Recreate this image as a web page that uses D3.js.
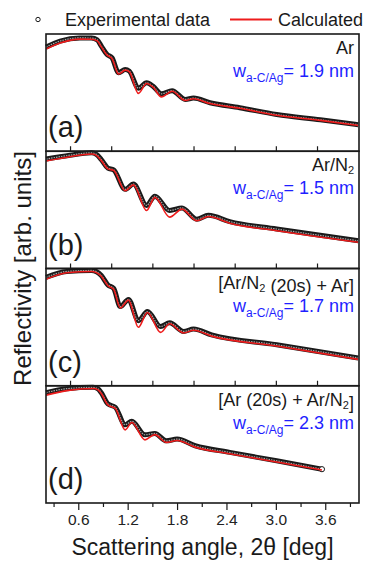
<!DOCTYPE html>
<html>
<head>
<meta charset="utf-8">
<script src="https://cdn.jsdelivr.net/npm/d3@7"></script>
<style>
  html, body { margin: 0; padding: 0; background: #fff; }
  text { font-family: "Liberation Sans", Arial, sans-serif; }
</style>
</head>
<body>
<div id="chart"></div>
<script>
// scattering angle 2theta [deg] and log reflectivity (arb.)
const anglesA = [0.21, 0.38, 0.62, 0.76, 0.83, 0.88, 0.95, 1.01, 1.09, 1.17, 1.22, 1.33, 1.43, 1.51, 1.61, 1.74, 1.90, 2.00, 2.20, 2.56, 3.01, 3.54, 4.00];
const expA  = [-0.66, -0.36, -0.20, -0.21, -0.30, -0.62, -1.05, -1.22, -1.98, -1.82, -1.90, -2.77, -2.50, -2.68, -3.06, -2.90, -3.35, -3.28, -3.52, -3.77, -4.12, -4.39, -4.64];
const calcA = [-0.77, -0.46, -0.26, -0.27, -0.35, -0.66, -1.08, -1.25, -2.05, -1.85, -1.93, -3.04, -2.53, -2.72, -3.22, -2.93, -3.40, -3.31, -3.56, -3.80, -4.16, -4.42, -4.68];

const anglesB = [0.21, 0.50, 0.76, 0.82, 0.88, 0.96, 1.03, 1.17, 1.27, 1.43, 1.53, 1.71, 1.86, 2.04, 2.18, 2.44, 3.01, 4.00];
const expB  = [-0.40, -0.20, -0.08, -0.16, -0.43, -0.86, -0.95, -1.95, -1.68, -2.77, -2.30, -3.03, -2.90, -3.48, -3.28, -3.60, -3.98, -4.58];
const calcB = [-0.50, -0.28, -0.14, -0.21, -0.48, -0.90, -0.98, -2.02, -1.72, -3.03, -2.36, -3.37, -2.96, -3.56, -3.34, -3.68, -4.07, -4.66];

const anglesC = [0.21, 0.46, 0.76, 0.82, 0.88, 0.96, 1.03, 1.11, 1.21, 1.33, 1.44, 1.60, 1.71, 1.88, 2.00, 2.22, 3.01, 4.00];
const expC  = [-0.45, -0.15, -0.10, -0.16, -0.36, -0.84, -1.02, -1.95, -1.58, -2.67, -2.20, -2.97, -2.78, -3.22, -3.10, -3.40, -3.90, -4.58];
const calcC = [-0.55, -0.22, -0.15, -0.21, -0.40, -0.88, -1.06, -2.02, -1.62, -3.01, -2.25, -3.27, -2.83, -3.30, -3.16, -3.46, -3.97, -4.65];

const anglesD = [0.21, 0.46, 0.78, 0.84, 0.88, 0.96, 1.05, 1.17, 1.25, 1.41, 1.53, 1.67, 1.80, 2.02, 2.44, 3.01, 3.56];
const expD  = [-0.35, -0.15, -0.08, -0.16, -0.36, -0.93, -1.10, -2.00, -1.82, -2.51, -2.44, -2.82, -2.73, -3.07, -3.41, -3.84, -4.27];
const calcD = [-0.48, -0.25, -0.14, -0.21, -0.40, -0.98, -1.16, -2.26, -1.88, -2.77, -2.50, -2.90, -2.80, -3.14, -3.48, -3.90, -4.31];

const panelLetters = ['(a)', '(b)', '(c)', '(d)'];
const samples = ['Ar', 'Ar/N2', '[Ar/N2 (20s) + Ar]', '[Ar (20s) + Ar/N2]'];
const roughness = [1.9, 1.5, 1.7, 2.3];
const bottomTicks = [0.6, 1.2, 1.8, 2.4, 3.0, 3.6];
const bottomMinor = [0.3, 0.9, 1.5, 2.1, 2.7, 3.3, 3.9];
const innerTicks = [0.5, 1.0, 1.5, 2.0, 2.5, 3.0, 3.5];

const panels = [
  { angles: anglesA, exp: expA, calc: calcA },
  { angles: anglesB, exp: expB, calc: calcB },
  { angles: anglesC, exp: expC, calc: calcC },
  { angles: anglesD, exp: expD, calc: calcD },
];

const width = 367;
const height = 562;
const margin = { top: 34, right: 8, bottom: 59, left: 46 };
const plotW = width - margin.left - margin.right;
const panelH = (height - margin.top - margin.bottom) / panels.length;

const svg = d3.select('#chart')
  .append('svg')
  .attr('width', width)
  .attr('height', height);

const x = d3.scaleLinear().domain([0.208, 4.01]).range([margin.left, margin.left + plotW]);

const ink = '#1a1a1a';
const red = '#ee1c1c';
const blue = '#1f1fff';

// writes text with "N2" as N + subscript 2
function addSample(sel, s) {
  const parts = s.split('N2');
  parts.forEach((p, i) => {
    sel.append('tspan').text(p + (i < parts.length - 1 ? 'N' : ''));
    if (i < parts.length - 1) {
      sel.append('tspan').attr('font-size', 11).attr('dy', 3).text('2');
      sel.append('tspan').attr('dy', -3).text('');
    }
  });
}

panels.forEach((p, i) => {
  const top = margin.top + i * panelH;
  const y = d3.scaleLinear().domain([-6, 0]).range([top + panelH, top]);
  const g = svg.append('g');

  const line = d3.line()
    .x((d, k) => x(p.angles[k]))
    .y((d) => y(d))
    .curve(d3.curveMonotoneX);

  // experimental data: dense open circles -> dark band
  g.append('path')
    .attr('d', line(p.exp))
    .attr('fill', 'none')
    .attr('stroke', ink)
    .attr('stroke-width', 5)
    .attr('stroke-linejoin', 'round');
  g.append('path')
    .attr('d', line(p.exp))
    .attr('fill', 'none')
    .attr('stroke', '#a8a8a8')
    .attr('stroke-width', 1.2)
    .attr('stroke-dasharray', '1.5,1');

  if (i === 3) {
    const n = p.angles.length - 1;
    g.append('circle')
      .attr('cx', x(p.angles[n]))
      .attr('cy', y(p.exp[n]))
      .attr('r', 2.6)
      .attr('fill', '#fff')
      .attr('stroke', ink)
      .attr('stroke-width', 1);
  }

  // calculated
  g.append('path')
    .attr('d', line(p.calc))
    .attr('fill', 'none')
    .attr('stroke', red)
    .attr('stroke-width', 1.6);

  // frame
  g.append('rect')
    .attr('x', margin.left)
    .attr('y', top)
    .attr('width', plotW)
    .attr('height', panelH)
    .attr('fill', 'none')
    .attr('stroke', ink)
    .attr('stroke-width', 1.6);

  if (i < 3) {
    const ax = g.append('g')
      .attr('transform', `translate(0,${top + panelH})`)
      .call(d3.axisBottom(x).tickValues(innerTicks).tickSize(-5).tickFormat(''));
    ax.select('.domain').remove();
    ax.selectAll('line').attr('stroke', ink).attr('stroke-width', 1.2);
  } else {
    const ax = g.append('g')
      .attr('transform', `translate(0,${top + panelH})`)
      .call(d3.axisBottom(x).tickValues(bottomTicks).tickSize(7).tickPadding(4).tickFormat(d3.format('.1f')));
    ax.select('.domain').remove();
    ax.selectAll('line').attr('stroke', ink).attr('stroke-width', 1.2);
    ax.selectAll('text')
      .attr('font-size', 15.5)
      .attr('fill', '#222')
      .attr('font-family', '"Liberation Sans", Arial, sans-serif');
    const mx = g.append('g')
      .attr('transform', `translate(0,${top + panelH})`)
      .call(d3.axisBottom(x).tickValues(bottomMinor).tickSize(4).tickFormat(''));
    mx.select('.domain').remove();
    mx.selectAll('line').attr('stroke', ink).attr('stroke-width', 1.2);
  }

  // panel letter
  g.append('text')
    .attr('x', 48)
    .attr('y', top + panelH - 14)
    .attr('font-size', 29)
    .attr('fill', ink)
    .text(panelLetters[i]);

  // sample name
  const t1 = g.append('text')
    .attr('x', 354)
    .attr('y', top + 20)
    .attr('text-anchor', 'end')
    .attr('font-size', 18)
    .attr('fill', ink);
  addSample(t1, samples[i]);

  // roughness
  const t2 = g.append('text')
    .attr('x', 354)
    .attr('y', top + 43)
    .attr('text-anchor', 'end')
    .attr('font-size', 18)
    .attr('fill', blue);
  t2.append('tspan').text('w');
  t2.append('tspan').attr('font-size', 12).attr('dy', 5).text('a-C/Ag');
  t2.append('tspan').attr('dy', -5).text('= ' + roughness[i].toFixed(1) + ' nm');
});

// legend
svg.append('circle').attr('cx', 38).attr('cy', 19.5).attr('r', 2.2)
  .attr('fill', '#fff').attr('stroke', ink).attr('stroke-width', 1);
svg.append('text').attr('x', 65).attr('y', 26).attr('font-size', 18).attr('fill', ink).text('Experimental data');
svg.append('line').attr('x1', 230).attr('x2', 272).attr('y1', 19.5).attr('y2', 19.5)
  .attr('stroke', red).attr('stroke-width', 1.8);
svg.append('text').attr('x', 278).attr('y', 26).attr('font-size', 18).attr('fill', ink).text('Calculated');

// axis titles
svg.append('text')
  .attr('x', margin.left + plotW / 2)
  .attr('y', 555)
  .attr('text-anchor', 'middle')
  .attr('font-size', 23)
  .attr('fill', ink)
  .text('Scattering angle, 2θ [deg]');

svg.append('text')
  .attr('transform', `translate(31,${margin.top + 2 * panelH}) rotate(-90)`)
  .attr('text-anchor', 'middle')
  .attr('font-size', 24)
  .attr('fill', ink)
  .text('Reflectivity [arb. units]');
</script>
</body>
</html>
